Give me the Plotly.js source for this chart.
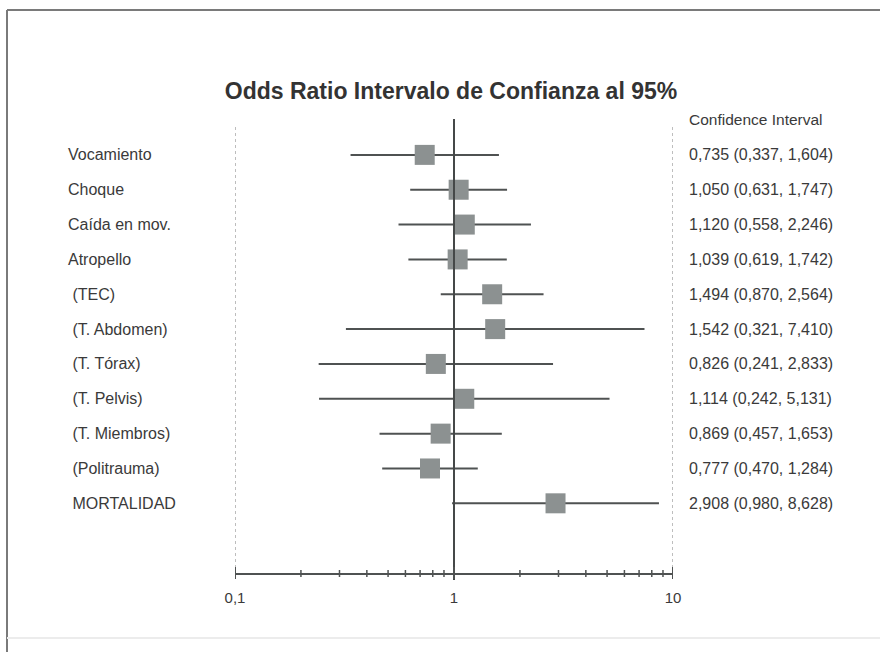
<!DOCTYPE html>
<html><head><meta charset="utf-8">
<script src="https://cdn.plot.ly/plotly-3.0.1.min.js"></script>
<style>html,body{margin:0;padding:0;background:#fff}#chart{width:880px;height:652px}</style>
</head><body><div id="chart"></div>
<script>
const categories = ["Vocamiento","Choque","Caída en mov.","Atropello"," (TEC)"," (T. Abdomen)"," (T. Tórax)"," (T. Pelvis)"," (T. Miembros)"," (Politrauma)"," MORTALIDAD"];
const oddsRatio = [0.735,1.050,1.120,1.039,1.494,1.542,0.826,1.114,0.869,0.777,2.908];
const ciLow  = [0.337,0.631,0.558,0.619,0.870,0.321,0.241,0.242,0.457,0.470,0.980];
const ciHigh = [1.604,1.747,2.246,1.742,2.564,7.410,2.833,5.131,1.653,1.284,8.628];
const tickVals = [0.1,1,10];
const tickText = ["0,1","1","10"];
const minorTicks = [0.2,0.3,0.4,0.5,0.6,0.7,0.8,0.9,2,3,4,5,6,7,8,9];

const fmt = v => v.toFixed(3).replace('.', ',');
const rows = categories.map((_, i) => i);

const lx = [], ly = [];
rows.forEach(i => { lx.push(ciLow[i], ciHigh[i], null); ly.push(i, i, null); });

const lineColor = '#4f5252';
const textColor = '#3a3a3a';
const font = 'Liberation Sans, Arial, sans-serif';

const traces = [
  {x: lx, y: ly, mode: 'lines', line: {color: lineColor, width: 2}, hoverinfo: 'skip', showlegend: false},
  {x: oddsRatio, y: rows, mode: 'markers', marker: {symbol: 'square', size: 20, color: '#8c9191'}, showlegend: false}
];

const pxToPaperX = p => (p - 235) / 438;
const pxToPaperY = p => (573 - p) / 454;

const shapes = [
  {type: 'line', xref: 'paper', yref: 'paper', x0: pxToPaperX(7), x1: pxToPaperX(7), y0: pxToPaperY(652), y1: pxToPaperY(10), line: {color: '#7a7a7a', width: 2}},
  {type: 'line', xref: 'paper', yref: 'paper', x0: pxToPaperX(7), x1: pxToPaperX(890), y0: pxToPaperY(10), y1: pxToPaperY(10), line: {color: '#7a7a7a', width: 2}},
  {type: 'line', xref: 'paper', yref: 'paper', x0: pxToPaperX(7), x1: pxToPaperX(890), y0: pxToPaperY(638), y1: pxToPaperY(638), line: {color: '#ececec', width: 2}},
  {type: 'line', xref: 'x', yref: 'paper', x0: 0.1, x1: 0.1, y0: pxToPaperY(568), y1: pxToPaperY(125), line: {color: '#a8a8a8', width: 1.5, dash: 'dot'}},
  {type: 'line', xref: 'x', yref: 'paper', x0: 10, x1: 10, y0: pxToPaperY(568), y1: pxToPaperY(125), line: {color: '#a8a8a8', width: 1.5, dash: 'dot'}},
  {type: 'line', xref: 'x', yref: 'paper', x0: 1, x1: 1, y0: pxToPaperY(580), y1: pxToPaperY(119), line: {color: '#454848', width: 2}}
];
tickVals.forEach(v => shapes.push({type: 'line', xref: 'x', yref: 'paper', x0: v, x1: v, y0: pxToPaperY(579), y1: pxToPaperY(567), line: {color: lineColor, width: 2}}));
minorTicks.forEach(v => shapes.push({type: 'line', xref: 'x', yref: 'paper', x0: v, x1: v, y0: pxToPaperY(577), y1: pxToPaperY(570), line: {color: lineColor, width: 1.5}}));

const annotations = [];
rows.forEach(i => {
  annotations.push({xref: 'paper', yref: 'y', x: pxToPaperX(66), y: i, xanchor: 'left', yanchor: 'middle', text: categories[i], showarrow: false, font: {family: font, size: 16, color: textColor}});
  annotations.push({xref: 'paper', yref: 'y', x: pxToPaperX(687), y: i, xanchor: 'left', yanchor: 'middle', text: fmt(oddsRatio[i]) + ' (' + fmt(ciLow[i]) + ', ' + fmt(ciHigh[i]) + ')', showarrow: false, font: {family: font, size: 16, color: textColor}});
});
annotations.push({xref: 'paper', yref: 'paper', x: pxToPaperX(687), y: pxToPaperY(119), xanchor: 'left', yanchor: 'middle', text: 'Confidence Interval', showarrow: false, font: {family: font, size: 15.5, color: textColor}});

const layout = {
  width: 880, height: 652,
  margin: {l: 235, r: 207, t: 119, b: 79},
  paper_bgcolor: '#fff', plot_bgcolor: 'rgba(0,0,0,0)',
  separators: ',.',
  title: {text: 'Odds Ratio Intervalo de Confianza al 95%', x: 451/880, xanchor: 'center', y: 1 - 91/652, yanchor: 'middle', font: {family: font, size: 23, color: '#333', weight: 'bold'}},
  xaxis: {type: 'log', range: [-1, 1], tickvals: tickVals, ticktext: tickText, ticks: 'outside', ticklen: 10, tickcolor: 'rgba(0,0,0,0)',
          showline: true, linecolor: lineColor, linewidth: 2, showgrid: false, zeroline: false,
          tickfont: {family: font, size: 15, color: textColor}},
  yaxis: {range: [12.0, -1.03], showticklabels: false, showgrid: false, zeroline: false, showline: false, ticks: ''},
  shapes: shapes,
  annotations: annotations,
  hovermode: false
};

Plotly.newPlot('chart', traces, layout, {displayModeBar: false, staticPlot: true});
</script></body></html>
